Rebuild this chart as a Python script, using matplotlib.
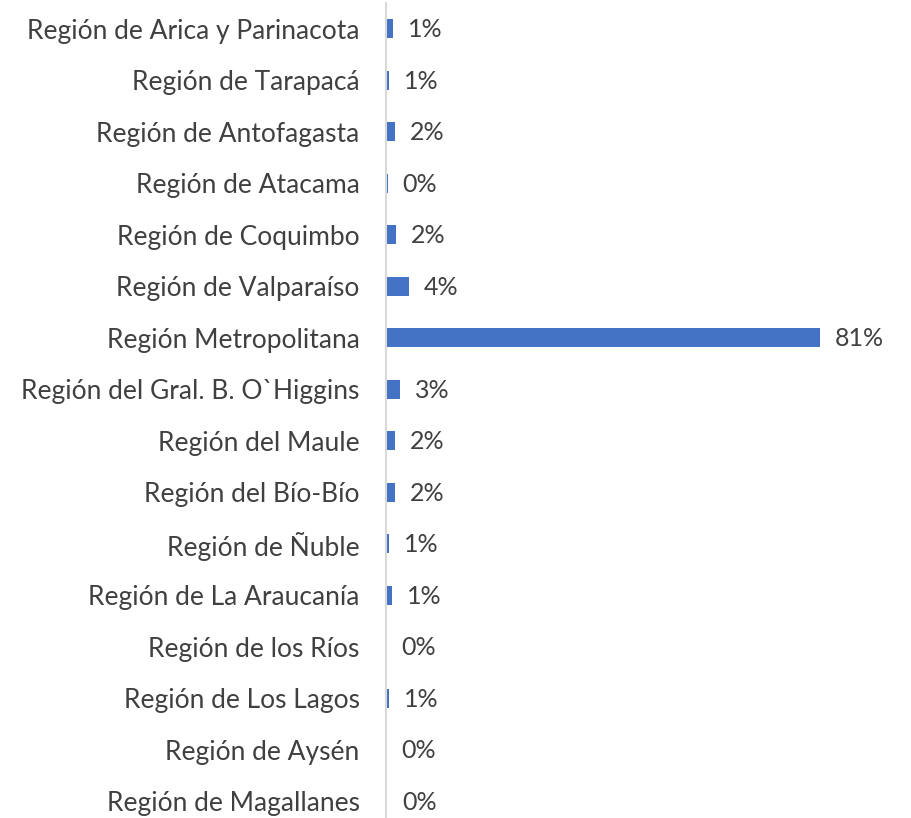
import matplotlib
matplotlib.use("Agg")
import matplotlib.pyplot as plt

regions = [
    "Región de Arica y Parinacota",
    "Región de Tarapacá",
    "Región de Antofagasta",
    "Región de Atacama",
    "Región de Coquimbo",
    "Región de Valparaíso",
    "Región Metropolitana",
    "Región del Gral. B. O`Higgins",
    "Región del Maule",
    "Región del Bío-Bío",
    "Región de Ñuble",
    "Región de La Araucanía",
    "Región de los Ríos",
    "Región de Los Lagos",
    "Región de Aysén",
    "Región de Magallanes",
]
values = [1.3, 0.6, 1.7, 0.3, 1.9, 4.2, 81.0, 2.6, 1.7, 1.7, 0.6, 1.1, 0.0, 0.6, 0.0, 0.25]
labels = ["1%", "1%", "2%", "0%", "2%", "4%", "81%", "3%", "2%", "2%", "1%", "1%", "0%", "1%", "0%", "0%"]

W, H = 911, 818
fig = plt.figure(figsize=(W / 100, H / 100), dpi=100)
ax = fig.add_axes([386 / W, 0, (W - 386) / W, (H - 3) / H])

text_color = "#404040"
font = "Lato"
y = list(range(len(regions)))
ax.barh(y, values, height=0.37, color="#4472C4", left=0)
ax.set_ylim(15.33, -0.5)
ax.set_xlim(0, 98)
ax.set_yticks(y)
ax.set_yticklabels(regions, fontsize=19, color=text_color, family=font)
ax.tick_params(axis="y", length=0, pad=19)
ax.set_xticks([])
for s in ["top", "right", "bottom"]:
    ax.spines[s].set_visible(False)
ax.spines["left"].set_color("#D9D9D9")
ax.spines["left"].set_linewidth(1.5)

for yi, v, lab in zip(y, values, labels):
    ax.annotate(lab, xy=(v, yi), xytext=(15, -1), textcoords="offset pixels",
                ha="left", va="center", fontsize=18, color=text_color, family=font)

fig.savefig("out.png", dpi=100)
